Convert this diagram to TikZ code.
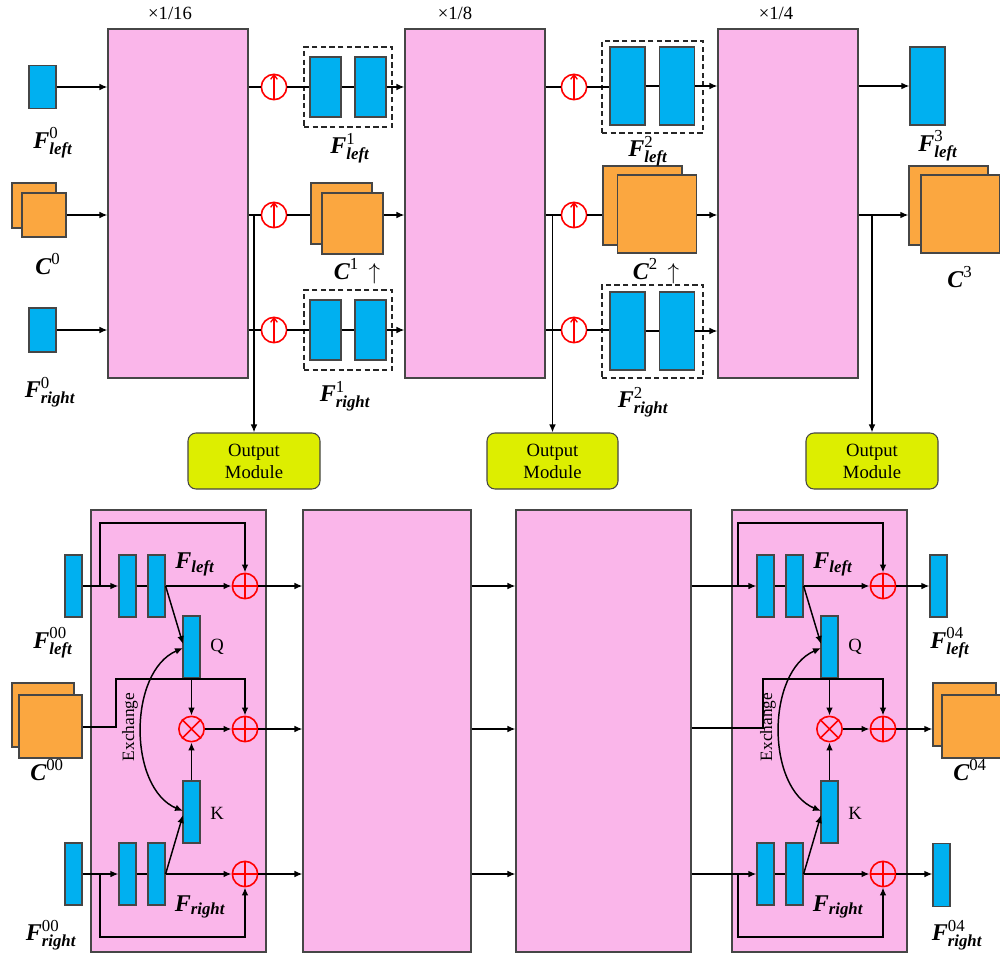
\documentclass[tikz,border=0pt]{standalone}
\usepackage{amsmath}
\usepackage{fontspec}
\setmainfont{Liberation Serif}
\usetikzlibrary{arrows.meta}
\definecolor{cpink}{RGB}{250,182,234}
\definecolor{cblue}{RGB}{0,176,240}
\definecolor{corange}{RGB}{251,167,64}
\definecolor{cyell}{RGB}{221,238,0}
\definecolor{cedge}{RGB}{70,70,70}
\newcommand\FF[2]{$\text{\bfseries\itshape F}^{\text{\normalfont #1}}_{\text{\bfseries\itshape #2}}$}
\newcommand\CC[1]{$\text{\bfseries\itshape C}^{\text{\normalfont #1}}$}
\newcommand\Fs[1]{$\text{\bfseries\itshape F}_{\text{\bfseries\itshape #1}}$}
\tikzset{
  sz/.style 2 args={minimum width=#1*0.75pt, minimum height=#2*0.75pt},
  blk/.style={draw=cedge, fill=cpink, line width=0.8pt, inner sep=0},
  bl/.style={draw=cedge, fill=cblue, line width=0.9pt, inner sep=0},
  og/.style={draw=cedge, fill=corange, line width=0.9pt, inner sep=0},
  dbox/.style={draw=black!85, dash pattern=on 4pt off 2.5pt, line width=0.9pt, inner sep=0},
  outm/.style={draw=cedge, fill=cyell, rounded corners=6pt, line width=0.8pt, align=center, font=\fontsize{14}{16.5}\selectfont, inner sep=0},
  rc/.style={circle, draw=red, line width=1.2pt, minimum size=19pt, inner sep=0},
  ln/.style={line width=1.1pt, draw=black},
  ar/.style={ln, -{Latex[length=6pt,width=5pt]}},
  lbl/.style={font=\fontsize{18}{20}\selectfont, inner sep=0},
  sml/.style={font=\fontsize{14}{15}\selectfont, inner sep=0},
}
\newcommand\upsym[1]{\draw[red,line width=1pt,-{Straight Barb[length=3.5pt,width=5pt]}] (#1.south) -- (#1.north);}
\newcommand\plussym[1]{\draw[red,line width=1.1pt] (#1.north) -- (#1.south) (#1.west) -- (#1.east);}
\newcommand\timessym[1]{\draw[red,line width=1.1pt] (#1.north west) -- (#1.south east) (#1.north east) -- (#1.south west);}
\newcommand\attnblk[2]{%
  \node[bl,sz={17}{62}] (#1r1) at ({127.5+#2},586) {};
  \node[bl,sz={17}{62}] (#1r2) at ({156.5+#2},586) {};
  \node[rc] (#1pl) at ({245+#2},586) {};
  \node[bl,sz={17}{62}] (#1q) at ({191.5+#2},647) {};
  \node[rc] (#1mx) at ({191.5+#2},729) {};
  \node[rc] (#1pc) at ({245+#2},729) {};
  \node[bl,sz={17}{62}] (#1k) at ({191.5+#2},812) {};
  \node[bl,sz={17}{62}] (#1r3) at ({127.5+#2},874) {};
  \node[bl,sz={17}{62}] (#1r4) at ({156.5+#2},874) {};
  \node[rc] (#1pr) at ({245+#2},874) {};
  \plussym{#1pl}\plussym{#1pc}\plussym{#1pr}\timessym{#1mx}
  \coordinate (#1bt) at ({100+#2},586);
  \coordinate (#1bb) at ({100+#2},874);
  \coordinate (#1tt) at ({100+#2},523);
  \coordinate (#1tb) at ({100+#2},937);
  \draw[ar] (#1bt) -- (#1tt) -| (#1pl.north);
  \draw[ar] (#1bb) -- (#1tb) -| (#1pr.south);
  \draw[ln] (#1r1.east) -- (#1r2.west);
  \draw[ar] (#1r2.east) -- (#1pl.west);
  \draw[ln] (#1r3.east) -- (#1r4.west);
  \draw[ar] (#1r4.east) -- (#1pr.west);
  \draw[ar] (#1r2.east) -- ({183+#2},644);
  \draw[ar] (#1r4.east) -- ({183+#2},815);
  \draw[ar] (#1q.south) -- (#1mx.north);
  \draw[ar] (#1k.north) -- (#1mx.south);
  \draw[ar] (#1mx.east) -- (#1pc.west);
  \draw[ln,{Latex[length=6pt,width=5pt]}-{Latex[length=6pt,width=5pt]}] ({183+#2},648) .. controls ({128+#2},672) and ({128+#2},788) .. ({183+#2},811);
  \node[rotate=90,font=\fontsize{13}{14}\selectfont,inner sep=0] (#1ex) at ({130+#2},727) {Exchange};
  \node[lbl] (#1fl) at ({195+#2},564) {\Fs{left}};
  \node[lbl] (#1fr) at ({200+#2},907) {\Fs{right}};
  \node[sml] (#1ql) at ({217+#2},647) {Q};
  \node[sml] (#1kl) at ({217+#2},813) {K};
}
\begin{document}
\begin{tikzpicture}[x=0.75pt,y=-0.75pt]
\useasboundingbox (0,0) rectangle (1000,956);
\fill[white] (0,0) rectangle (1000,956);
% ---------- top row ----------
\node[blk,sz={140}{349}] (T1) at (178,203.5) {};
\node[blk,sz={140}{349}] (T2) at (475,203.5) {};
\node[blk,sz={140}{349}] (T3) at (788,203.5) {};
\node[sml] (s1) at (170,13) {×1/16};
\node[sml] (s2) at (455,13) {×1/8};
\node[sml] (s3) at (776,13) {×1/4};
% inputs
\node[bl,sz={27}{43}] (fl0) at (42.5,87) {};
\node[bl,sz={27}{44}] (fr0) at (42.5,330) {};
\node[og,sz={44}{45}] (c0b) at (34,205.5) {};
\node[og,sz={44}{44}] (c0) at (44,215) {};
\draw[ar] (fl0.east) -- (fl0.east -| T1.west);
\draw[ar] (c0.east) -- (c0.east -| T1.west);
\draw[ar] (fr0.east) -- (fr0.east -| T1.west);
% upsampling circles
\foreach \n/\y in {a/87,b/215,c/330}{
  \node[rc] (u1\n) at (274,\y) {};
  \node[rc] (u2\n) at (574,\y) {};
  \upsym{u1\n}\upsym{u2\n}
  \draw[ln] (u1\n.west -| T1.east) -- (u1\n.west);
  \draw[ln] (u2\n.west -| T2.east) -- (u2\n.west);
}
% stage 1 features
\node[dbox,sz={88}{80}] (d1a) at (348,87) {};
\node[bl,sz={31}{60}] (r1a) at (325.5,87) {};
\node[bl,sz={31}{60}] (r1b) at (370.5,87) {};
\node[dbox,sz={88}{80}] (d1c) at (348,330) {};
\node[bl,sz={31}{60}] (r1c) at (325.5,330) {};
\node[bl,sz={31}{60}] (r1d) at (370.5,330) {};
\node[og,sz={61}{61}] (c1b) at (341.5,213.5) {};
\node[og,sz={61}{61}] (c1) at (352.5,223.5) {};
\draw[ln] (u1a.east) -- (r1a.west);
\draw[ln] (r1a.east) -- (r1b.west);
\draw[ar] (r1b.east) -- (r1b.east -| T2.west);
\draw[ln] (u1c.east) -- (r1c.west);
\draw[ln] (r1c.east) -- (r1d.west);
\draw[ar] (r1d.east) -- (r1d.east -| T2.west);
\draw[ln] (u1b.east) -- (u1b -| c1b.west);
\draw[ar] (u1b -| c1.east) -- (u1b -| T2.west);
% stage 2 features
\node[dbox,sz={101}{92}] (d2a) at (652.5,87) {};
\node[bl,sz={35}{78}] (r2a) at (627.5,86) {};
\node[bl,sz={35}{78}] (r2b) at (677,86) {};
\node[dbox,sz={101}{93}] (d2c) at (652.5,331.5) {};
\node[bl,sz={35}{78}] (r2c) at (627.5,331) {};
\node[bl,sz={35}{78}] (r2d) at (677,331) {};
\node[og,sz={79}{79}] (c2b) at (642.5,205.5) {};
\node[og,sz={79}{78}] (c2) at (657,214) {};
\draw[ln] (u2a.east) -- (u2a.east -| r2a.west);
\draw[ln] (r2a.east) -- (r2b.west);
\draw[ar] (r2b.east) -- (r2b.east -| T3.west);
\draw[ln] (u2c.east) -- (u2c.east -| r2c.west);
\draw[ln] (r2c.east) -- (r2d.west);
\draw[ar] (r2d.east) -- (r2d.east -| T3.west);
\draw[ln] (u2b.east) -- (u2b -| c2b.west);
\draw[ar] (u2b -| c2.east) -- (u2b -| T3.west);
% stage 3 outputs
\node[bl,sz={35}{78}] (f3) at (927.5,86) {};
\node[og,sz={79}{79}] (c3b) at (948.5,205.5) {};
\node[og,sz={79}{78}] (c3) at (960.5,214) {};
\draw[ar] (f3.west -| T3.east) -- (f3.west);
\draw[ar] (u2b -| T3.east) -- (u2b -| c3b.west);
% output modules
\node[outm,sz={132}{56}] (o1) at (254,461) {Output\\Module};
\node[outm,sz={131}{56}] (o2) at (552.5,461) {Output\\Module};
\node[outm,sz={132}{56}] (o3) at (872,461) {Output\\Module};
\draw[ar] (o1.north |- u1b) -- (o1.north);
\draw[ar] (o2.north |- u2b) -- (o2.north);
\draw[ar] (o3.north |- u2b) -- (o3.north);
% top labels
\node[lbl] (l1) at (53,143) {\FF{0}{left}};
\node[lbl] (l2) at (48,264) {\CC{0}};
\node[lbl] (l3) at (50,392) {\FF{0}{right}};
\node[lbl] (l4) at (350,148) {\FF{1}{left}};
\node[lbl] (l5) at (357,271) {\CC{1}\hspace{0.4em}$\uparrow$};
\node[lbl] (l6) at (345,396) {\FF{1}{right}};
\node[lbl] (l7) at (648,151) {\FF{2}{left}};
\node[lbl] (l8) at (656,271) {\CC{2}\hspace{0.4em}$\uparrow$};
\node[lbl] (l9) at (643,402) {\FF{2}{right}};
\node[lbl] (l10) at (938,146) {\FF{3}{left}};
\node[lbl] (l11) at (960,277) {\CC{3}};
% ---------- bottom row ----------
\node[blk,sz={175}{442}] (B1) at (178.5,731) {};
\node[blk,sz={168}{442}] (B2) at (387,731) {};
\node[blk,sz={175}{442}] (B3) at (603.5,731) {};
\node[blk,sz={175}{442}] (B4) at (819.5,731) {};
\attnblk{A}{0}
\attnblk{D}{638}
% B1 inputs
\node[bl,sz={17}{62}] (fl00) at (73.5,586) {};
\node[bl,sz={17}{62}] (fr00) at (73.5,874) {};
\node[og,sz={62}{64}] (c00b) at (43,715) {};
\node[og,sz={63}{63}] (c00) at (50.5,726.5) {};
\draw[ar] (fl00.east) -- (Ar1.west);
\draw[ar] (fr00.east) -- (Ar3.west);
\coordinate (Ac1) at (116,727);
\coordinate (Ac2) at (116,679);
\draw[ar] (c00.east |- Ac1) -- (Ac1) -- (Ac2) -| (Apc.north);
% B1 -> B2 -> B3
\draw[ar] (Apl.east) -- (Apl.east -| B2.west);
\draw[ar] (Apc.east) -- (Apc.east -| B2.west);
\draw[ar] (Apr.east) -- (Apr.east -| B2.west);
\draw[ar] (Apl -| B2.east) -- (Apl -| B3.west);
\draw[ar] (Apc -| B2.east) -- (Apc -| B3.west);
\draw[ar] (Apr -| B2.east) -- (Apr -| B3.west);
% B3 -> B4
\draw[ar] (Dr1.west -| B3.east) -- (Dr1.west);
\draw[ar] (Dr3.west -| B3.east) -- (Dr3.west);
\coordinate (Dc1) at (763,728);
\coordinate (Dc2) at (763,679);
\draw[ar] (Dc1 -| B3.east) -- (Dc1) -- (Dc2) -| (Dpc.north);
% B4 outputs
\node[bl,sz={17}{62}] (fl04) at (938.5,586) {};
\node[bl,sz={17}{63}] (fr04) at (941.5,875) {};
\node[og,sz={63}{63}] (c04b) at (964.5,714.5) {};
\node[og,sz={63}{63}] (c04) at (973.5,726.5) {};
\draw[ar] (Dpl.east) -- (fl04.west);
\draw[ar] (Dpc.east) -- (Dpc.east -| c04b.west);
\draw[ar] (Dpr.east) -- (Dpr.east -| fr04.west);
% bottom labels
\node[lbl] (m1) at (53,643) {\FF{00}{left}};
\node[lbl] (m2) at (47,770) {\CC{00}};
\node[lbl] (m3) at (51,935) {\FF{00}{right}};
\node[lbl] (m4) at (950,643) {\FF{04}{left}};
\node[lbl] (m5) at (970,770) {\CC{04}};
\node[lbl] (m6) at (957,935) {\FF{04}{right}};
\end{tikzpicture}
\end{document}
